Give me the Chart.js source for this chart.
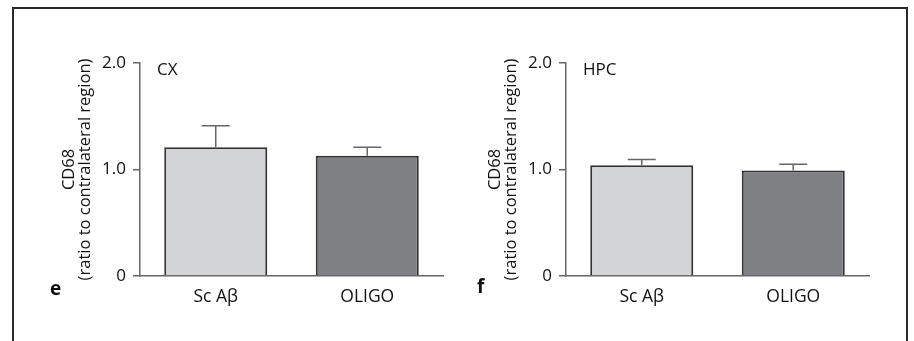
<!DOCTYPE html>
<html lang="en">
<head>
<meta charset="UTF-8">
<title>CD68 ratio CX / HPC</title>
<script src="https://cdn.jsdelivr.net/npm/chart.js"></script>
<style>
  html, body { margin: 0; padding: 0; background: #fff; }
  body { width: 914px; height: 341px; position: relative; overflow: hidden; font-family: "Open Sans", "Noto Sans", sans-serif; }
  .frame { position: absolute; left: 12px; top: 7px; width: 896px; height: 360px; border: 2px solid #2a2a2a; box-sizing: border-box; }
  .panel { position: absolute; top: 0; width: 460px; height: 341px; }
  .panel canvas { position: absolute; left: 0; top: 0; }
  .letter { position: absolute; font-weight: bold; font-size: 19px; color: #111; line-height: 1; }
</style>
</head>
<body>
<div class="frame"></div>
<div class="panel" style="left:0"><canvas id="cx" width="460" height="341"></canvas></div>
<div class="panel" style="left:426px"><canvas id="hpc" width="460" height="341"></canvas></div>
<div class="letter" style="left:50px; top:279px">e</div>
<div class="letter" style="left:477px; top:277px">f</div>
<script>
// values
const categories = ['Sc A\u03b2', 'OLIGO'];
const cxMeans = [1.21, 1.13];
const cxErrors = [0.20, 0.08];
const hpcMeans = [1.04, 0.99];
const hpcErrors = [0.055, 0.06];
const yTicks = [0, 1, 2];
const yTitle = ['CD68', '(ratio to contralateral region)'];

const barColors = ['#d3d4d6', '#7f8083'];
const FONT = '"Open Sans", "Noto Sans", sans-serif';
const TEXT = '#111';

// draws the upper error whiskers, the region label and the y title
const extras = {
  id: 'extras',
  afterDatasetsDraw(chart, args, opts) {
    const ctx = chart.ctx;
    const y = chart.scales.y;
    const area = chart.chartArea;
    const meta = chart.getDatasetMeta(0);
    ctx.save();
    ctx.strokeStyle = '#666';
    ctx.lineWidth = 1.5;
    meta.data.forEach((bar, i) => {
      const top = y.getPixelForValue(opts.means[i] + opts.errors[i]);
      const base = y.getPixelForValue(opts.means[i]);
      ctx.beginPath();
      ctx.moveTo(bar.x, base);
      ctx.lineTo(bar.x, top);
      ctx.moveTo(bar.x - 14, top);
      ctx.lineTo(bar.x + 14, top);
      ctx.stroke();
    });
    ctx.fillStyle = TEXT;
    ctx.font = '500 17px ' + FONT;
    ctx.textBaseline = 'middle';
    ctx.fillText(opts.label, area.left + 17, area.top + 7);

    // two-line rotated axis title
    const midY = (area.top + area.bottom) / 2;
    ctx.font = '500 16.5px ' + FONT;
    ctx.textAlign = 'center';
    [-71, -55].forEach((dx, i) => {
      ctx.save();
      ctx.translate(area.left + dx, midY);
      ctx.rotate(-Math.PI / 2);
      ctx.fillText(yTitle[i], 0, 0);
      ctx.restore();
    });
    ctx.restore();
  }
};

function makeChart(id, means, errors, label) {
  return new Chart(document.getElementById(id), {
    type: 'bar',
    data: {
      labels: categories,
      datasets: [{
        data: means,
        backgroundColor: barColors,
        borderColor: '#333',
        borderWidth: 2,
        barPercentage: 0.68,
        categoryPercentage: 1
      }]
    },
    options: {
      responsive: false,
      animation: false,
      devicePixelRatio: 1,
      layout: { padding: { left: 52, top: 63, right: 17, bottom: 0 } },
      plugins: {
        legend: { display: false },
        tooltip: { enabled: false },
        extras: { means: means, errors: errors, label: label }
      },
      scales: {
        x: {
          grid: { display: false },
          border: { display: true, color: '#666', width: 1.5 },
          ticks: { color: TEXT, font: { family: FONT, size: 17.5, weight: '500' }, padding: 3 },
          afterFit: s => { s.height = 65; }
        },
        y: {
          min: 0,
          max: 2,
          afterBuildTicks: s => { s.ticks = yTicks.map(v => ({ value: v })); },
          grid: { display: true, drawOnChartArea: false, drawTicks: true, tickLength: 7, color: '#666', lineWidth: 1.5 },
          border: { display: true, color: '#666', width: 1.5 },
          ticks: {
            color: TEXT,
            font: { family: FONT, size: 17, weight: '500' },
            padding: 7,
            callback: v => v === 0 ? '0' : v.toFixed(1)
          },
          afterFit: s => { s.width = 88; }
        }
      }
    },
    plugins: [extras]
  });
}

makeChart('cx', cxMeans, cxErrors, 'CX');
makeChart('hpc', hpcMeans, hpcErrors, 'HPC');
</script>
</body>
</html>
